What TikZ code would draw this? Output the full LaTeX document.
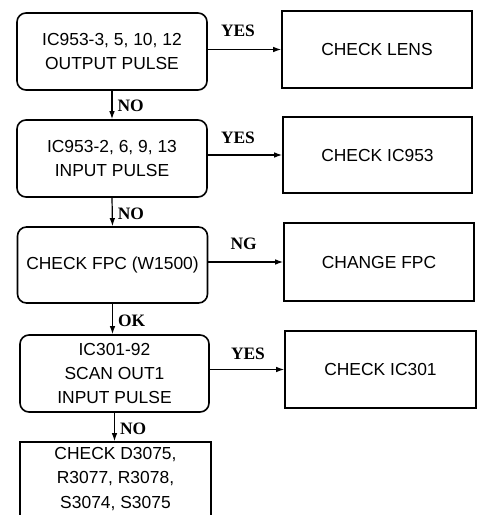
\documentclass[tikz,border=0pt]{standalone}
\usepackage{fontspec}
\setmainfont{Liberation Serif}
\setsansfont{Liberation Sans}
\usetikzlibrary{arrows.meta}
\begin{document}
\begin{tikzpicture}[x=1bp,y=-1bp,
 box/.style={draw, line width=1.6bp, minimum width=190bp, minimum height=77bp, align=center, font=\sffamily\fontsize{17.5}{24.5}\selectfont, inner sep=0pt},
 rbox/.style={box, rounded corners=9bp},
 arr/.style={line width=1.2bp, -{Latex[length=8bp,width=5.5bp]}},
 lbl/.style={font=\bfseries\fontsize{17.5}{20}\selectfont, inner sep=0pt}]
\useasboundingbox (0,0) rectangle (478,515);
% left column
\node[rbox] (b1) at (112,51.5) {IC953-3, 5, 10, 12\\OUTPUT PULSE};
\node[rbox] (b2) at (112,158.5) {IC953-2, 6, 9, 13\\INPUT PULSE};
\node[rbox, minimum height=76bp] (b3) at (112.5,265) {CHECK FPC (W1500)};
\node[rbox, minimum width=189bp] (b4) at (114.5,373.5) {IC301-92\\SCAN OUT1\\INPUT PULSE};
\node[box, minimum width=191bp, minimum height=74bp] (b5) at (115.5,479) {CHECK D3075,\\R3077, R3078,\\S3074, S3075};
% right column
\node[box] (r1) at (377,49.5) {CHECK LENS};
\node[box, minimum width=189bp, minimum height=76bp] (r2) at (377.5,155) {CHECK IC953};
\node[box, minimum height=78bp] (r3) at (379,262) {CHANGE FPC};
\node[box, minimum width=191bp] (r4) at (380.5,369.5) {CHECK IC301};
% horizontal arrows
\draw[arr] (b1.east |- r1.west) -- (r1.west);
\draw[arr] (b2.east |- r2.west) -- (r2.west);
\draw[arr] (b3.east |- r3.west) -- (r3.west);
\draw[arr] (b4.east |- r4.west) -- (r4.west);
\node[lbl, anchor=base west] (y1) at ([xshift=13bp, yshift=12.5bp]b1.east |- r1.west) {YES};
\node[lbl, anchor=base west] (y2) at ([xshift=13bp, yshift=11bp]b2.east |- r2.west) {YES};
\node[lbl, anchor=base west] (y3) at ([xshift=22bp, yshift=13bp]b3.east |- r3.west) {NG};
\node[lbl, anchor=base west] (y4) at ([xshift=21bp, yshift=10bp]b4.east |- r4.west) {YES};
% vertical arrows
\draw[arr] (b1.south) -- node[lbl, anchor=base west, xshift=5bp, yshift=-7bp] (n1) {NO} (b2.north);
\draw[arr] (b2.south) -- node[lbl, anchor=base west, xshift=5bp, yshift=-7bp] (n2) {NO} (b3.north);
\draw[arr] (b3.south) -- node[lbl, anchor=base west, xshift=5bp, yshift=-7bp] (n3) {OK} (b3.south |- b4.north);
\draw[arr] (b4.south) -- node[lbl, anchor=base west, xshift=5bp, yshift=-7bp] (n4) {NO} (b4.south |- b5.north);
\end{tikzpicture}
\end{document}
